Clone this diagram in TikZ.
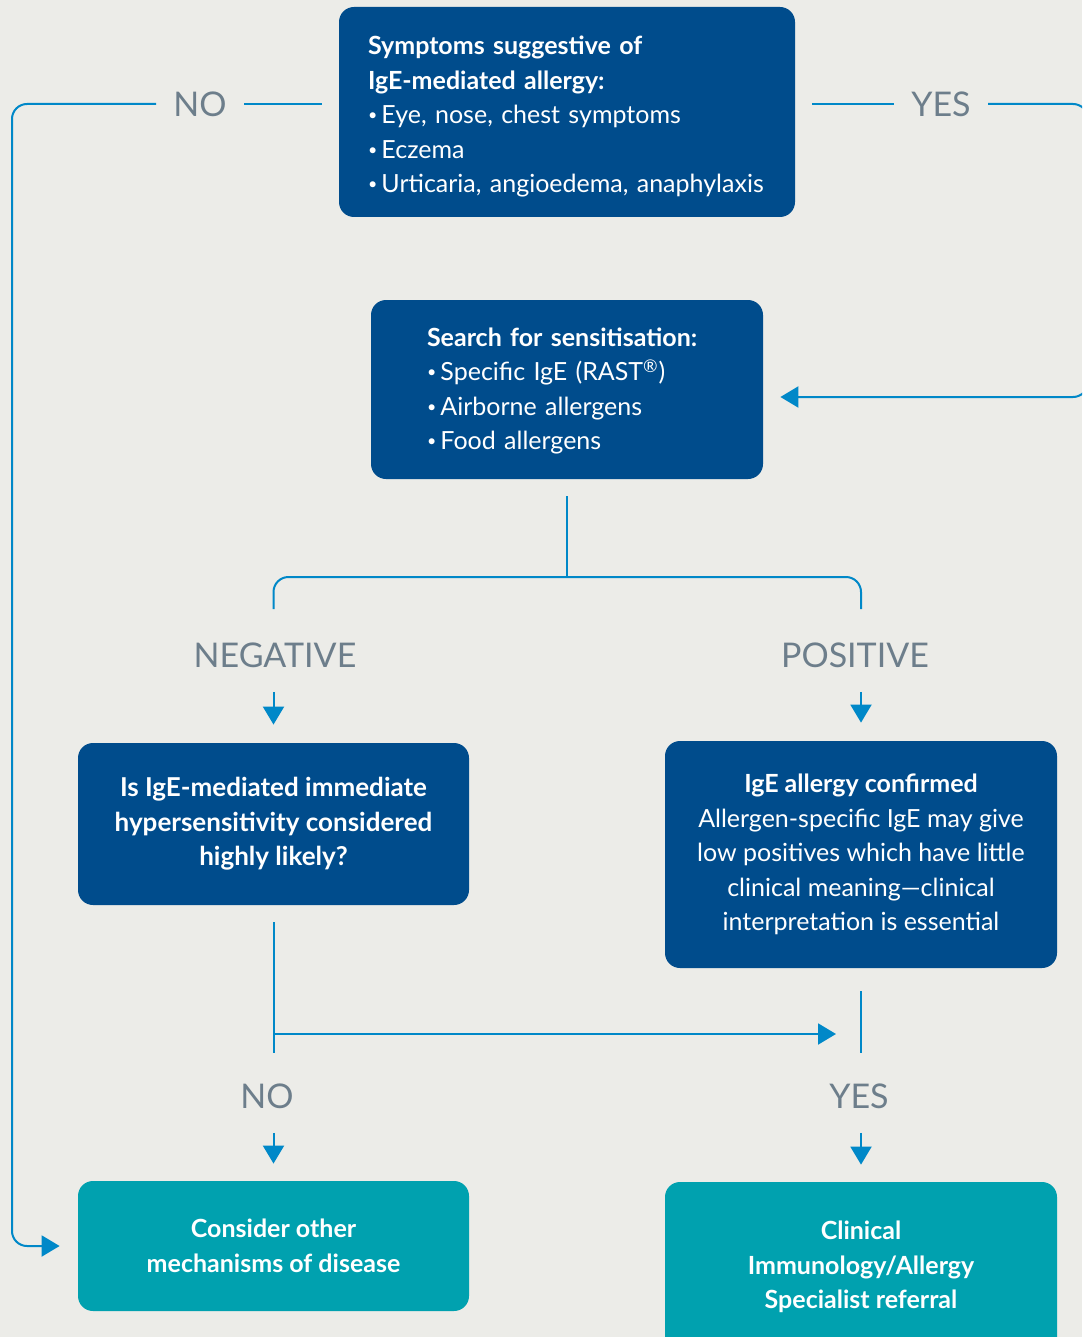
\documentclass[tikz,border=0pt]{standalone}
\usepackage{fontspec}
\setmainfont{Lato}
\usetikzlibrary{arrows.meta,positioning}
\definecolor{bgcol}{HTML}{ECECE8}
\definecolor{boxblue}{HTML}{004C8C}
\definecolor{boxteal}{HTML}{00A1AF}
\definecolor{linkblue}{HTML}{0088C8}
\definecolor{lblgray}{HTML}{6D7E8B}
\newcommand{\bul}{\raisebox{0.12em}{\fontsize{8}{8}\selectfont\textbullet}\,}

\begin{document}
\begin{tikzpicture}[x=0.5pt,y=-0.5pt]
\tikzstyle{darkbox} = [rectangle, rounded corners=7.5pt, fill=boxblue, text=white, font={\fontsize{12.5}{17.25}\selectfont}]
\tikzstyle{tealbox} = [darkbox, fill=boxteal]
\tikzstyle{lbl} = [text=lblgray, font={\fontsize{17}{20}\selectfont}, inner xsep=8.5pt, inner ysep=12pt]
\tikzstyle{link} = [draw=linkblue, line width=1pt]
\tikzstyle{linkarrow} = [link, -{Triangle[length=9pt,width=10.5pt]}]

%background
\path [use as bounding box, fill=bgcol] (0,0) rectangle (1082,1337);
\clip (0,0) rectangle (1082,1337);

%node
\node (symp) [darkbox, text width=199pt, inner xsep=14.5pt, minimum height=105pt, align=left] at (567,112)
  {\rule{0pt}{14pt}\textbf{Symptoms suggestive of}\\ \textbf{IgE-mediated allergy:}\\ \bul Eye, nose, chest symptoms\\ \bul Eczema\\ \bul Urticaria, angioedema, anaphylaxis};
\node (search) [darkbox, text width=140pt, inner xsep=28pt, minimum height=89.5pt, align=left] at (567,389.5)
  {\rule{0pt}{11pt}\textbf{Search for sensitisation:}\\ \bul Specific IgE (RAST\textsuperscript{®})\\ \bul Airborne allergens\\ \bul Food allergens};
\node (question) [darkbox, minimum width=195.5pt, minimum height=81pt, align=center, font={\fontsize{13}{17.25}\selectfont\bfseries}] at (273.5,824)
  {Is IgE-mediated immediate\\ hypersensitivity considered\\ highly likely?};
\node (ans) [darkbox, minimum width=196pt, minimum height=113.5pt, align=center] at (861,854.5)
  {\textbf{IgE allergy confirmed}\\ Allergen-specific IgE may give\\ low positives which have little\\ clinical meaning---clinical\\ interpretation is essential};
\node (cons) [tealbox, minimum width=195.5pt, minimum height=65pt, align=center, font={\fontsize{12.5}{17.25}\selectfont\bfseries}] at (273.5,1246)
  {Consider other\\ mechanisms of disease};
\node (refer) [tealbox, minimum width=196pt, minimum height=85pt, align=center, font={\fontsize{12.5}{17.25}\selectfont\bfseries}] at (861,1267)
  {Clinical\\ Immunology/Allergy\\ Specialist referral};

%labels
\node (noA) [lbl] at (200,104) {NO};
\node (yesA) [lbl] at (941,104) {YES};
\node (neg) [lbl] at (275,655) {NEGATIVE};
\node (pos) [lbl] at (855,655) {POSITIVE};
\node (no2) [lbl] at (267,1096) {NO};
\node (yes2) [lbl] at (859,1096) {YES};

%free ends
\coordinate (lrail) at (12,0);
\coordinate (rrail) at (1088,0);
\coordinate (searchin) at ([yshift=-3.75pt]search.east);
\coordinate (split) at (567,577);
\coordinate (join) at (861,1034);

%lines
\draw [link, shorten <=8.5pt] (symp.west |- noA) -- (noA.east);
\draw [linkarrow, rounded corners=7.5pt, shorten >=9pt] (noA.west) -| (lrail |- cons.west) -- (cons.west);
\draw [link, shorten <=8.5pt] (symp.east |- yesA) -- (yesA.west);
\draw [linkarrow, rounded corners=7.5pt, shorten >=8.5pt] (yesA.east) -| (rrail |- searchin) -- (searchin);

\draw [link, shorten <=8.5pt] (search.south) -- (split);
\draw [link, rounded corners=7.5pt, shorten <=4.5pt, shorten >=4.5pt] (neg.north -| question.north) |- (split) -| (pos.north -| ans.north);
\draw [linkarrow, shorten >=9pt] (neg.south -| question.north) -- (question.north);
\draw [linkarrow, shorten >=9pt] (pos.south -| ans.north) -- (ans.north);

\draw [link, shorten <=8.5pt, shorten >=3pt] (question.south) -- (no2.north -| question.south);
\draw [linkarrow, shorten >=12.5pt] (question.south |- join) -- (join);
\draw [link, shorten <=11.5pt, shorten >=3pt] (ans.south) -- (yes2.north -| ans.south);
\draw [linkarrow, shorten >=8.5pt] (no2.south -| cons.north) -- (cons.north);
\draw [linkarrow, shorten >=8.5pt] (yes2.south -| refer.north) -- (refer.north);
\end{tikzpicture}
\end{document}
